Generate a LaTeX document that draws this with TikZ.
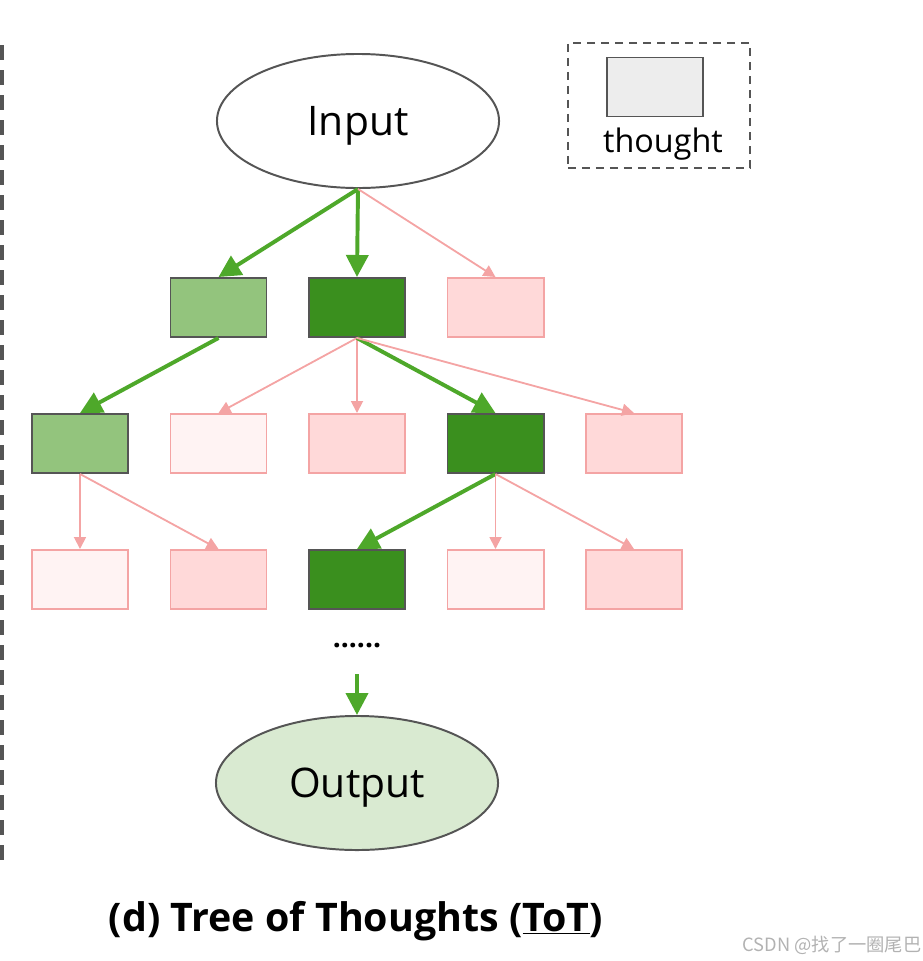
\documentclass[tikz,border=0pt]{standalone}
\usepackage{fontspec}
\setmainfont{Open Sans}
\newfontfamily\cjkfont{Noto Sans CJK SC}
\usepackage{tikz}
\usetikzlibrary{arrows.meta,positioning,shapes.geometric}
\definecolor{TotDark}{RGB}{58,143,30}
\definecolor{TotLight}{RGB}{147,196,125}
\definecolor{TotPink}{RGB}{255,217,217}
\definecolor{TotPale}{RGB}{255,243,243}
\definecolor{TotRim}{RGB}{244,164,164}
\definecolor{TotArrow}{RGB}{78,168,42}
\definecolor{TotEdge}{RGB}{85,85,85}

\begin{document}
\begin{tikzpicture}[x=0.025cm, y=-0.025cm, node distance=1.875cm and 1.0125cm,
  every node/.style={align=center, inner sep=0pt},
  thoughtbox/.style={draw, line width=1.4pt, minimum width=2.4cm, minimum height=1.475cm},
  darkbox/.style={thoughtbox, draw=TotEdge, fill=TotDark},
  lightbox/.style={thoughtbox, draw=TotEdge, fill=TotLight},
  pinkbox/.style={thoughtbox, draw=TotRim, fill=TotPink},
  palebox/.style={thoughtbox, draw=TotRim, fill=TotPale},
  pick/.style={-{Triangle[length=0.55cm, width=0.55cm]}, line width=2.8pt, draw=TotArrow},
  prune/.style={-{Triangle[length=0.3cm, width=0.3cm]}, line width=1.3pt, draw=TotRim},
  bubble/.style={ellipse, draw=TotEdge, line width=1.4pt, minimum width=7.05cm, minimum height=3.35cm, text depth=0pt, font=\fontsize{29}{33}\selectfont}]
\useasboundingbox (0,0) rectangle (922,961);
\draw[TotEdge, line width=3pt, dash pattern=on 0.375cm off 0.25cm] (2,45) -- (2,865);

% legend
\node[draw=TotEdge, fill=black!7, line width=1.2pt, minimum width=2.4cm, minimum height=1.475cm] (key) at (655,87) {};
\node[font=\fontsize{23}{27}\selectfont, below=0.25cm of key, xshift=0.2cm] (keytext) {thought};
\node[draw=TotEdge, line width=1.2pt, dash pattern=on 0.2cm off 0.15cm, minimum width=4.55cm, minimum height=3.125cm] (legend) at (659,105.5) {};

\node[bubble, fill=white] (in) at (358,121) {Input};

% depth 1
\node[darkbox] (d1c) at (357,307.5) {};
\node[lightbox, left=of d1c] (d1b) {};
\node[pinkbox, right=of d1c] (d1d) {};

% depth 2
\node[pinkbox, below=of d1c] (d2c) {};
\node[palebox, left=of d2c] (d2b) {};
\node[lightbox, left=of d2b] (d2a) {};
\node[darkbox, right=of d2c] (d2d) {};
\node[pinkbox, right=of d2d] (d2e) {};

% depth 3
\node[darkbox, below=of d2c] (d3c) {};
\node[pinkbox, left=of d3c] (d3b) {};
\node[palebox, left=of d3b] (d3a) {};
\node[palebox, right=of d3c] (d3d) {};
\node[pinkbox, right=of d3d] (d3e) {};

\node[font=\fontsize{20}{24}\selectfont\bfseries, minimum height=1.4cm] (dots) at (357,646) {......};
\node[bubble, fill=TotLight!35] (out) at (357,783) {Output};

\draw[pick] (in.south) -- (d1b.north);
\draw[pick] (in.south) -- (d1c.north);
\draw[prune] (in.south) -- (d1d.north);

\draw[pick] (d1b.south) -- (d2a.north);
\draw[prune] (d1c.south) -- (d2b.north);
\draw[prune] (d1c.south) -- (d2c.north);
\draw[pick] (d1c.south) -- (d2d.north);
\draw[prune] (d1c.south) -- (d2e.north);

\draw[prune] (d2a.south) -- (d3a.north);
\draw[prune] (d2a.south) -- (d3b.north);
\draw[pick] (d2d.south) -- (d3c.north);
\draw[prune] (d2d.south) -- (d3d.north);
\draw[prune] (d2d.south) -- (d3e.north);

\draw[pick] (dots.south) -- (out.north);

\node[font=\fontsize{28}{32}\selectfont\bfseries] (caption) at (356,921) {(d) Tree of Thoughts (\underline{ToT})};
\node[font=\cjkfont\fontsize{13}{16}\selectfont, text=black!30] (mark) at (832,945) {CSDN @找了一圈尾巴};
\end{tikzpicture}
\end{document}
